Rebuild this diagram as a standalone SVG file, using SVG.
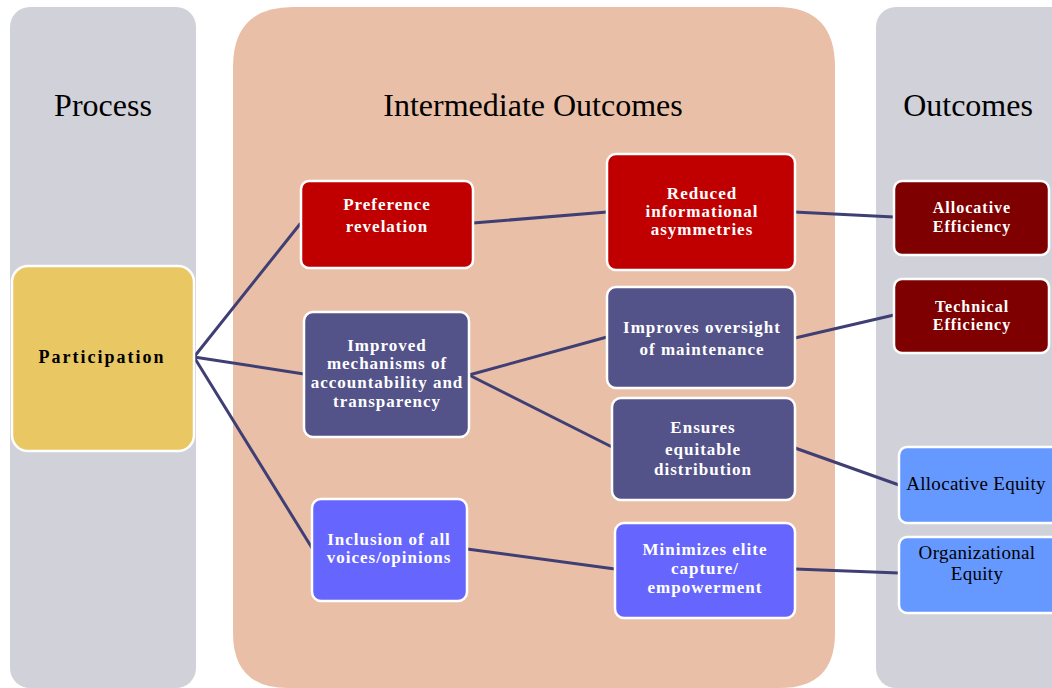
<svg xmlns="http://www.w3.org/2000/svg" width="1052" height="688" viewBox="0 0 1052 688">
<style>
.col{fill:#D1D1D9}
.title{font-family:"Liberation Serif",serif;font-size:32px;fill:#000;text-anchor:middle}
.box{stroke:#fff;stroke-width:2.5}
.red{fill:#C00000}
.dred{fill:#7F0000}
.slate{fill:#535389}
.violet{fill:#6666FF}
.lblue{fill:#6699FF}
.yel{fill:#E9C763}
.wt{font-family:"Liberation Serif",serif;font-size:17px;font-weight:bold;fill:#fff;text-anchor:middle;letter-spacing:1px}
.wt2{font-family:"Liberation Serif",serif;font-size:16px;font-weight:bold;fill:#fff;text-anchor:middle;letter-spacing:1px}
.bt{font-family:"Liberation Serif",serif;font-size:19px;fill:#000;text-anchor:middle;letter-spacing:0.3px}
.conn line{stroke:#3F3F74;stroke-width:3;stroke-linecap:round}
</style>
<rect width="1052" height="688" fill="#fff"/>
<g id="col-process">
<rect class="col" x="10" y="7" width="186" height="681" rx="20"/>
<text class="title" x="103" y="116">Process</text>
</g>
<g id="col-intermediate">
<path fill="#EABFA7" d="M293,7 H777 Q835,7 835,67 V633 Q835,688 780,688 H288 Q233,688 233,633 V67 Q233,7 293,7 Z"/>
<text class="title" x="533" y="116">Intermediate Outcomes</text>
</g>
<g id="col-outcomes">
<rect class="col" x="876" y="7" width="196" height="681" rx="20"/>
<text class="title" x="968" y="116">Outcomes</text>
</g>
<g class="conn" id="connectors">
<line x1="194" y1="357" x2="300" y2="224"/>
<line x1="194" y1="357" x2="304" y2="374"/>
<line x1="194" y1="357" x2="312" y2="548"/>
<line x1="473" y1="223" x2="607" y2="212"/>
<line x1="794" y1="212" x2="894" y2="217"/>
<line x1="469" y1="375" x2="607" y2="337"/>
<line x1="469" y1="375" x2="612" y2="447"/>
<line x1="795" y1="338" x2="894" y2="315"/>
<line x1="795" y1="448" x2="899" y2="485"/>
<line x1="467" y1="549" x2="615" y2="569"/>
<line x1="795" y1="569" x2="899" y2="573"/>
</g>
<g id="participation">
<rect class="box yel" x="12" y="266" width="182" height="185" rx="16"/>
<text x="102" y="363" font-family="'Liberation Serif',serif" font-size="18" font-weight="bold" fill="#000" text-anchor="middle" letter-spacing="2">Participation</text>
</g>
<g id="preference">
<rect class="box red" x="301" y="181" width="172" height="87" rx="8"/>
<text class="wt" x="387" y="210">Preference</text>
<text class="wt" x="387" y="232">revelation</text>
</g>
<g id="reduced">
<rect class="box red" x="607" y="154" width="188" height="116" rx="9"/>
<text class="wt" x="702" y="199">Reduced</text>
<text class="wt" x="702" y="217">informational</text>
<text class="wt" x="702" y="235">asymmetries</text>
</g>
<g id="alloc-eff">
<rect class="box dred" x="894" y="181" width="155" height="74" rx="8"/>
<text class="wt2" x="972" y="213">Allocative</text>
<text class="wt2" x="972" y="232">Efficiency</text>
</g>
<g id="improved">
<rect class="box slate" x="304" y="312" width="165" height="125" rx="9"/>
<text class="wt" x="387" y="351">Improved</text>
<text class="wt" x="387" y="369">mechanisms of</text>
<text class="wt" x="387" y="388">accountability and</text>
<text class="wt" x="387" y="407">transparency</text>
</g>
<g id="oversight">
<rect class="box slate" x="607" y="287" width="188" height="101" rx="9"/>
<text class="wt" x="702" y="333">Improves oversight</text>
<text class="wt" x="702" y="355">of maintenance</text>
</g>
<g id="technical">
<rect class="box dred" x="894" y="279" width="155" height="74" rx="8"/>
<text class="wt2" x="972" y="312">Technical</text>
<text class="wt2" x="972" y="330">Efficiency</text>
</g>
<g id="ensures">
<rect class="box slate" x="612" y="398" width="183" height="102" rx="9"/>
<text class="wt" x="703" y="433">Ensures</text>
<text class="wt" x="703" y="455">equitable</text>
<text class="wt" x="703" y="475">distribution</text>
</g>
<g id="alloc-equity">
<rect class="box lblue" x="899" y="447" width="160" height="76" rx="8"/>
<text class="bt" x="976" y="490">Allocative Equity</text>
</g>
<g id="inclusion">
<rect class="box violet" x="312" y="499" width="155" height="102" rx="9"/>
<text class="wt" x="389" y="545">Inclusion of all</text>
<text class="wt" x="389" y="563">voices/opinions</text>
</g>
<g id="minimizes">
<rect class="box violet" x="615" y="523" width="180" height="95" rx="9"/>
<text class="wt" x="705" y="555">Minimizes elite</text>
<text class="wt" x="705" y="574">capture/</text>
<text class="wt" x="705" y="593">empowerment</text>
</g>
<g id="org-equity">
<rect class="box lblue" x="899" y="537" width="160" height="76" rx="8"/>
<text class="bt" x="977" y="559">Organizational</text>
<text class="bt" x="977" y="580">Equity</text>
</g>
</svg>
